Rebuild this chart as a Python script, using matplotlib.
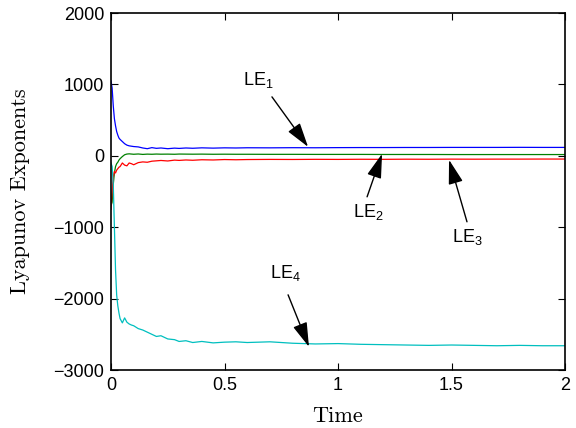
import numpy as np
import matplotlib
matplotlib.use("Agg")
import matplotlib.pyplot as plt

plt.rcParams['font.family'] = ['Liberation Sans', 'DejaVu Sans']
plt.rcParams['mathtext.fontset'] = 'custom'
plt.rcParams['mathtext.rm'] = 'Liberation Sans'
plt.rcParams['mathtext.it'] = 'Liberation Sans'

# time samples (denser near t=0 where the exponents move fast)
t = [0, 0.005, 0.01, 0.015, 0.02, 0.025, 0.03, 0.035, 0.04, 0.05,
     0.06, 0.07, 0.08, 0.09, 0.1, 0.12, 0.14, 0.16, 0.18, 0.2,
     0.22, 0.25, 0.28, 0.3, 0.33, 0.36, 0.4, 0.45, 0.5, 0.55,
     0.6, 0.7, 0.8, 0.9, 1.0, 1.1, 1.2, 1.3, 1.4, 1.5,
     1.6, 1.7, 1.8, 1.9, 2.0]

le1 = [1050, 950, 700, 520, 420, 340, 290, 250, 230, 200,
       170, 150, 140, 135, 130, 125, 110, 100, 115, 105,
       110, 100, 108, 104, 110, 106, 112, 108, 112, 110,
       113, 112, 114, 113, 115, 116, 116, 117, 117, 118,
       118, 118, 119, 118, 118]

le2 = [-700, -650, -400, -240, -150, -110, -90, -60, -40, -10,
       15, 25, 28, 25, 22, 26, 20, 24, 22, 25,
       23, 24, 22, 25, 24, 23, 24, 22, 23, 22,
       22, 21, 21, 20, 20, 20, 19, 19, 19, 18,
       18, 18, 18, 18, 18]

le3 = [-750, -500, -300, -220, -240, -200, -180, -160, -150, -100,
       -130, -140, -100, -110, -125, -95, -85, -90, -75, -70,
       -65, -72, -60, -64, -58, -62, -55, -58, -52, -55,
       -52, -50, -51, -49, -50, -48, -49, -47, -48, -46,
       -47, -46, -46, -45, -45]

le4 = [-100, -150, -400, -1000, -1600, -1950, -2100, -2200, -2280, -2340,
       -2270, -2330, -2355, -2370, -2380, -2420, -2440, -2470, -2500, -2530,
       -2520, -2565, -2575, -2600, -2590, -2615, -2600, -2620, -2610, -2605,
       -2615, -2605, -2625, -2635, -2630, -2640, -2645, -2650, -2655, -2650,
       -2655, -2660, -2655, -2660, -2660]

# label text, arrow tip (on curve), arrow tail, text position
labels = ['LE$_1$', 'LE$_2$', 'LE$_3$', 'LE$_4$']
tips = [(0.868, 126), (1.194, 28), (1.489, -56), (0.872, -2675)]
tails = [(0.709, 826), (1.128, -574), (1.568, -924), (0.780, -1947)]
text_pos = [(0.648, 1064), (1.132, -784), (1.568, -1134), (0.767, -1639)]


def main():
    fig = plt.figure(figsize=(5.76, 4.28), dpi=100)
    ax = fig.add_axes([0.1927, 0.1355, 0.7883, 0.834])

    ax.plot(t, le1, color=(0, 0, 1), lw=0.9)
    ax.plot(t, le2, color=(0, 0.5, 0), lw=0.9)
    ax.plot(t, le3, color=(1, 0, 0), lw=0.9)
    ax.plot(t, le4, color=(0, 0.75, 0.75), lw=0.9)

    ax.set_xlim(0, 2)
    ax.set_ylim(-3000, 2000)
    ax.set_xticks([0, 0.5, 1, 1.5, 2])
    ax.set_xticklabels(['0', '0.5', '1', '1.5', '2'])
    ax.set_yticks([-3000, -2000, -1000, 0, 1000, 2000])
    ax.set_yticklabels(['\u22123000', '\u22122000', '\u22121000', '0', '1000', '2000'])
    ax.tick_params(direction='in', length=5, width=0.8, labelsize=13,
                   top=True, right=True, pad=5)
    for s in ax.spines.values():
        s.set_linewidth(1.2)

    ax.set_xlabel('Time', fontfamily='cmr10', fontsize=16, labelpad=9)
    ax.set_ylabel('Lyapunov Exponents', fontfamily='cmr10', fontsize=16, labelpad=17)

    for lab, tip, tail, pos in zip(labels, tips, tails, text_pos):
        ax.annotate('', xy=tip, xytext=tail,
                    arrowprops=dict(arrowstyle='-|>,head_length=1.0,head_width=0.3',
                                    mutation_scale=15, color='k', lw=1,
                                    shrinkA=0, shrinkB=0))
        ax.text(pos[0], pos[1], lab, fontsize=13, ha='center', va='center')

    fig.savefig('out.png', dpi=100)


if __name__ == "__main__":
    main()
